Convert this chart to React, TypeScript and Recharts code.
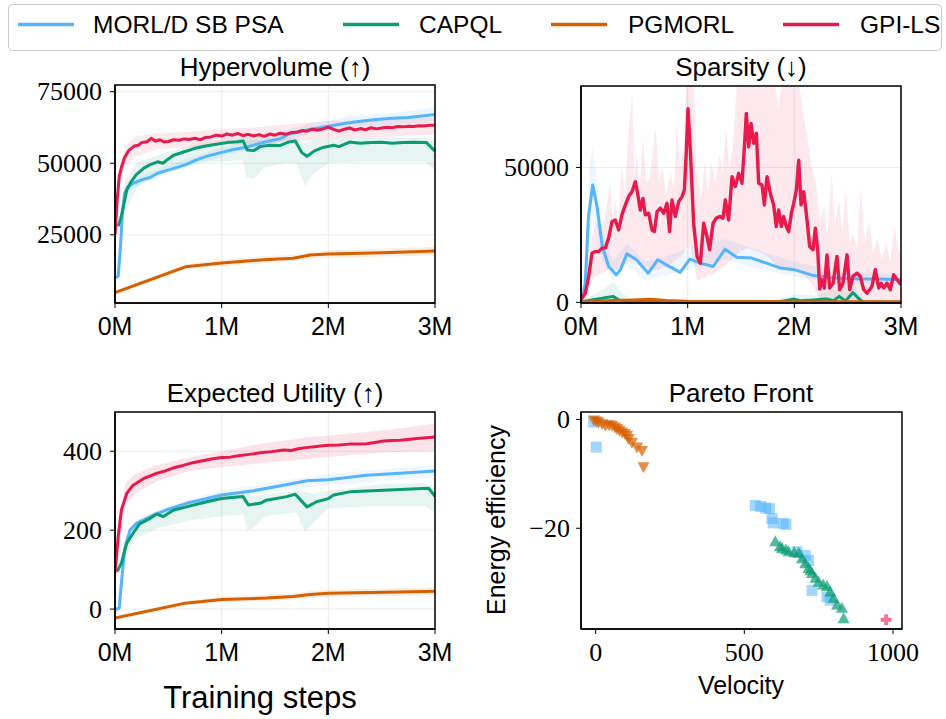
import React from 'react';
import { ComposedChart, ScatterChart, Line, Area, Scatter, XAxis, YAxis, CartesianGrid } from 'recharts';

const C_MORL = '#56b4fb';
const C_CAPQL = '#0a9c73';
const C_PGMORL = '#d65f00';
const C_GPI = '#e8194b';

const SERIES_NAMES = ['MORL/D SB PSA', 'CAPQL', 'PGMORL', 'GPI-LS'];
const STEP_TICKS = [0, 1, 2, 3];
const HV_TICKS = [25000, 50000, 75000];
const SP_TICKS = [0, 50000];
const EU_TICKS = [0, 200, 400];
const PF_X_TICKS = [0, 500, 1000];
const PF_Y_TICKS = [-20, 0];

// ---------- Hypervolume ----------
const hvMorl = [[0,9900],[0.03,10500],[0.05,20000],[0.07,33000],[0.09,39500],[0.12,41800],[0.17,43000],[0.25,44200],[0.33,45000],[0.40,46500],[0.48,47400],[0.56,48300],[0.67,49600],[0.75,51000],[0.85,52300],[1.00,53800],[1.10,54700],[1.23,55600],[1.35,56800],[1.45,57800],[1.55,58600],[1.62,60000],[1.73,61000],[1.85,62000],[2.00,62900],[2.15,63900],[2.30,64700],[2.45,65300],[2.60,65700],[2.75,66000],[2.90,66600],[3.00,67000]];
const hvMorlBand = [[0,9000,10800],[0.05,15000,25000],[0.08,33000,40000],[0.12,40500,43500],[0.3,43500,46500],[0.6,47500,50500],[1.0,52500,55500],[1.4,56000,59500],[1.8,60000,63500],[2.2,62500,66500],[2.6,63500,67500],[3.0,64500,69500]];
const hvCapql = [[0.03,28000],[0.06,31500],[0.09,37000],[0.11,40500],[0.15,43500],[0.20,46000],[0.27,48300],[0.33,49500],[0.40,50500],[0.45,50000],[0.50,51500],[0.55,52800],[0.65,54000],[0.75,55200],[0.85,56000],[0.95,56600],[1.05,57200],[1.15,57500],[1.20,57800],[1.24,54600],[1.30,54400],[1.36,55800],[1.45,56300],[1.55,56200],[1.62,57300],[1.69,57800],[1.75,53800],[1.80,52400],[1.87,54300],[1.95,55500],[2.05,56300],[2.10,55800],[2.20,57400],[2.30,57000],[2.40,57200],[2.50,57300],[2.60,57000],[2.70,57200],[2.80,57300],[2.92,57200],[3.00,54200]];
const hvCapqlBand = [[0.03,27000,29000],[0.1,33000,44000],[0.2,41000,50000],[0.3,44500,51500],[0.5,47500,54000],[0.8,50500,57000],[1.0,50500,58000],[1.2,51000,58800],[1.23,45000,58800],[1.3,44500,58000],[1.4,48500,58500],[1.6,50000,59000],[1.7,50000,58800],[1.78,42000,57000],[1.85,46000,58000],[2.0,50000,58500],[2.3,50500,59000],[2.6,50500,59000],[2.9,50500,59000],[3.0,47500,58000]];
const hvPgmorl = [[0,4800],[0.66,13800],[1.0,15100],[1.4,16300],[1.67,16800],[1.83,17900],[2.0,18300],[2.5,18700],[3.0,19300]];
const hvPgmorlBand = [[0,4200,5400],[0.66,12800,14800],[1.0,14000,16200],[1.4,15100,17500],[1.67,15600,18000],[1.83,16700,19100],[2.0,17000,19600],[2.5,17300,20100],[3.0,17800,20800]];
const hvGpi = [[0,25000],[0.02,37000],[0.04,45500],[0.06,48500],[0.09,52000],[0.13,54500],[0.18,56000],[0.22,56300],[0.25,57200],[0.30,57500],[0.34,58700],[0.38,57700],[0.42,58200],[0.46,57400],[0.50,57600],[0.55,58200],[0.60,58000],[0.65,58500],[0.70,58300],[0.75,58700],[0.80,58200],[0.85,59000],[0.90,59200],[0.95,59800],[1.00,59500],[1.05,60200],[1.10,59800],[1.15,60400],[1.20,59600],[1.25,60100],[1.30,59500],[1.35,60000],[1.40,59400],[1.45,60200],[1.50,59800],[1.55,60500],[1.60,60100],[1.65,60700],[1.70,60800],[1.75,61400],[1.80,61200],[1.85,61900],[1.90,61500],[1.95,62000],[2.00,62600],[2.05,61800],[2.10,61200],[2.15,61900],[2.20,62300],[2.25,61600],[2.30,62100],[2.35,61700],[2.40,62400],[2.45,62000],[2.50,62300],[2.55,62600],[2.60,62400],[2.65,62800],[2.70,62700],[2.75,62900],[2.80,62800],[2.85,63100],[2.90,63000],[2.95,63300],[3.00,63300]];
const hvGpiBand = [[0,24000,26000],[0.05,43000,50000],[0.1,49000,56000],[0.2,52500,59500],[0.4,55000,60500],[0.7,55500,61000],[1.0,56500,62000],[1.3,56500,62500],[1.6,57500,63500],[2.0,58500,64800],[2.4,59000,65000],[2.7,59500,65500],[3.0,60000,66000]];

// ---------- Sparsity ----------
const spMorl = [[0,0],[0.04,7100],[0.07,31800],[0.11,43500],[0.15,35500],[0.20,20700],[0.26,13300],[0.33,10200],[0.37,12100],[0.43,18000],[0.52,15800],[0.63,10800],[0.72,15800],[0.80,13900],[0.93,11100],[1.02,16000],[1.12,14500],[1.24,13300],[1.35,19700],[1.46,16700],[1.60,16400],[1.74,14500],[1.87,12700],[2.00,12100],[2.18,9900],[2.37,9000],[2.62,8600],[2.80,8600],[3.00,8400]];
const spMorlBand = [[0,0,500],[0.04,2000,15000],[0.08,20000,50000],[0.11,32000,57500],[0.15,27000,45000],[0.2,15000,27000],[0.3,8000,15000],[0.43,14000,22000],[0.6,8000,15000],[0.8,10000,17000],[1.0,12000,20000],[1.35,16000,23500],[1.6,13000,20000],[2.0,9500,15000],[2.4,7000,11500],[3.0,6500,10500]];
const spCapql = [[0,0],[0.05,500],[0.10,900],[0.20,1500],[0.30,2200],[0.36,800],[0.45,200],[0.6,100],[1.0,50],[1.5,50],[1.85,100],[2.0,1200],[2.05,600],[2.15,800],[2.3,1200],[2.37,600],[2.42,2200],[2.48,500],[2.55,3600],[2.6,1500],[2.65,0],[3.0,0]];
const spCapqlBand = [[0,0,200],[0.1,0,2500],[0.2,0,4500],[0.3,0,7500],[0.4,0,3000],[0.5,0,500],[1.8,0,500],[2.0,0,3000],[2.2,0,2500],[2.4,0,5000],[2.55,0,7000],[2.65,0,1000],[3.0,0,300]];
const spPgmorl = [[0,0],[0.1,300],[0.3,700],[0.5,900],[0.65,1100],[0.8,700],[1.0,400],[1.5,300],[2.0,250],[3.0,200]];
const spGpi = [[0,1000],[0.041,3450],[0.072,9600],[0.103,18200],[0.134,18800],[0.166,18800],[0.197,20100],[0.228,20100],[0.259,23800],[0.291,29900],[0.322,30500],[0.353,26800],[0.384,32400],[0.416,36100],[0.447,39200],[0.478,41000],[0.509,44700],[0.531,40400],[0.556,34200],[0.581,38500],[0.603,32400],[0.634,33000],[0.666,26800],[0.688,26200],[0.713,33600],[0.744,34900],[0.775,33000],[0.806,36700],[0.831,26200],[0.853,37900],[0.884,31800],[0.916,37300],[0.947,39200],[0.969,41600],[0.988,56400],[1.003,71800],[1.025,56400],[1.056,29300],[1.088,17000],[1.119,14500],[1.150,29300],[1.181,24400],[1.206,19500],[1.238,29300],[1.269,31200],[1.300,31800],[1.331,31200],[1.353,37900],[1.384,30500],[1.416,46600],[1.447,42900],[1.478,47800],[1.509,44100],[1.531,57000],[1.550,70000],[1.572,57600],[1.594,66300],[1.619,58900],[1.644,62600],[1.666,44100],[1.697,43500],[1.719,36100],[1.744,46600],[1.775,40400],[1.806,36100],[1.831,28100],[1.853,34200],[1.878,28100],[1.900,31800],[1.925,28100],[1.947,26200],[1.972,33000],[1.994,36700],[2.019,41600],[2.041,52700],[2.063,36100],[2.088,41000],[2.119,30500],[2.144,20700],[2.175,19500],[2.197,27500],[2.219,19500],[2.238,4900],[2.259,8400],[2.281,5300],[2.306,17600],[2.331,5300],[2.363,7100],[2.400,17000],[2.425,4700],[2.456,7100],[2.494,17600],[2.519,4700],[2.550,9600],[2.588,10800],[2.619,9600],[2.650,4700],[2.681,3400],[2.728,5900],[2.759,12100],[2.791,5300],[2.813,7100],[2.838,5300],[2.869,7100],[2.900,4700],[2.931,10200],[2.963,8400],[3.000,6500]];
const spGpiBand = [[0,0,1500],[0.05,1000,8000],[0.10,8000,24000],[0.15,10000,30000],[0.20,11000,28000],[0.24,12000,35000],[0.27,12000,44000],[0.30,12000,30000],[0.32,12000,38000],[0.35,12000,30000],[0.38,14000,52000],[0.41,14000,40000],[0.44,15000,60000],[0.48,15000,77000],[0.50,15000,45000],[0.52,15000,55000],[0.55,14000,42000],[0.58,14000,62000],[0.61,13000,45000],[0.64,12000,45000],[0.67,12000,55000],[0.70,12000,65000],[0.73,12000,45000],[0.76,13000,50000],[0.80,13000,40000],[0.84,14000,48000],[0.87,15000,42000],[0.90,16000,66000],[0.93,17000,50000],[0.96,18000,58000],[0.985,20000,80000],[1.03,20000,80000],[1.06,14000,80000],[1.08,9000,50000],[1.10,8000,45000],[1.13,9000,38000],[1.16,9000,52000],[1.19,10000,40000],[1.22,10000,52000],[1.26,11000,44000],[1.30,12000,55000],[1.33,13000,48000],[1.36,14000,65000],[1.39,15000,50000],[1.42,16000,56000],[1.46,18000,80000],[1.55,20000,80000],[1.65,19000,80000],[1.75,17000,80000],[1.82,14000,80000],[1.85,13000,72000],[1.88,12000,80000],[1.95,12000,80000],[2.05,11000,80000],[2.08,10000,70000],[2.12,9000,62000],[2.16,7000,50000],[2.20,4000,45000],[2.24,1000,30000],[2.28,0,36000],[2.31,0,25000],[2.35,0,48000],[2.38,0,28000],[2.42,0,38000],[2.45,0,25000],[2.48,0,42000],[2.52,0,22000],[2.55,0,25000],[2.59,0,20000],[2.62,0,42000],[2.66,0,22000],[2.70,0,30000],[2.74,0,18000],[2.78,0,24000],[2.82,0,16000],[2.86,0,22000],[2.90,0,15000],[2.94,0,28000],[2.97,0,20000],[3.00,2000,17000]];

// ---------- Expected Utility ----------
const euMorl = [[0,-2],[0.04,3],[0.06,66],[0.09,150],[0.14,200],[0.20,217],[0.33,234],[0.48,251],[0.67,268],[0.86,280],[1.00,289],[1.30,300],[1.58,314],[1.80,325],[2.00,328],[2.36,339],[2.67,344],[3.00,350]];
const euMorlBand = [[0,-6,2],[0.06,50,85],[0.1,150,185],[0.2,205,228],[0.5,240,262],[1.0,277,301],[1.5,298,322],[2.0,314,342],[2.5,324,354],[3.0,334,366]];
const euCapql = [[0.02,95],[0.06,116],[0.11,167],[0.17,192],[0.23,216],[0.33,230],[0.39,241],[0.45,234],[0.55,251],[0.67,259],[0.86,272],[1.00,280],[1.20,285],[1.25,264],[1.36,268],[1.42,276],[1.61,285],[1.69,291],[1.80,259],[1.89,272],[2.00,280],[2.05,289],[2.20,297],[2.52,301],[2.83,305],[2.94,306],[3.00,286]];
const euCapqlBand = [[0.02,90,100],[0.1,140,185],[0.2,180,222],[0.4,205,250],[0.7,225,272],[1.0,235,290],[1.2,240,296],[1.24,200,292],[1.3,205,285],[1.4,235,290],[1.7,245,300],[1.78,195,296],[1.85,215,292],[2.0,255,300],[2.5,262,316],[2.9,262,320],[3.0,245,310]];
const euPgmorl = [[0,-23],[0.66,15],[1.0,24],[1.42,28],[1.67,32],[1.83,37],[2.0,40],[2.67,43],[3.0,45]];
const euPgmorlBand = [[0,-27,-19],[0.66,9,21],[1.0,17,31],[1.42,20,36],[1.67,24,40],[1.83,28,46],[2.0,31,49],[2.67,33,53],[3.0,35,55]];
const euGpi = [[0,91],[0.03,184],[0.06,251],[0.11,293],[0.17,314],[0.27,331],[0.39,344],[0.47,350],[0.55,358],[0.64,364],[0.73,371],[0.82,376],[0.92,381],[1.00,384],[1.08,385],[1.17,389],[1.26,392],[1.36,396],[1.47,399],[1.58,403],[1.65,402],[1.73,407],[1.85,411],[1.93,413],[2.00,415],[2.10,416],[2.20,418],[2.30,418],[2.36,419],[2.45,423],[2.52,426],[2.60,427],[2.67,428],[2.75,430],[2.83,432],[2.92,434],[3.00,436]];
const euGpiBand = [[0,87,95],[0.05,170,230],[0.1,265,320],[0.2,295,345],[0.4,325,365],[0.7,350,385],[1.0,360,400],[1.4,370,420],[1.8,380,435],[2.2,390,445],[2.6,398,455],[3.0,400,470]];

// ---------- Pareto front ----------
const pfMorl = [[-7,-0.5],[2,-5.1],[537,-15.8],[555,-16.0],[572,-16.3],[585,-16.4],[593,-18.2],[597,-19.0],[631,-19.1],[640,-19.3],[677,-24.3],[705,-25.0],[716,-25.9],[728,-31.4],[778,-32.6],[789,-33.2]];
const pfCapql = [[604,-22.5],[620,-23.4],[627,-23.7],[640,-24.0],[649,-24.3],[668,-24.5],[683,-24.6],[694,-25.6],[705,-26.5],[716,-27.4],[722,-27.8],[728,-28.3],[739,-29.2],[750,-29.9],[765,-30.4],[778,-30.7],[789,-31.7],[800,-32.9],[812,-34.1],[828,-34.7],[834,-36.6]];
const pfPgmorl = [[-6,-0.1],[3,-0.3],[10,-0.5],[22,-0.8],[33,-1.1],[45,-1.0],[55,-1.1],[65,-1.4],[72,-1.7],[80,-2.0],[89,-2.3],[98,-2.6],[106,-2.9],[111,-3.5],[122,-4.2],[139,-5.1],[156,-5.7],[161,-8.7]];
const pfGpi = [[977,-36.8]];

const pts = (a: number[][]) => a.map(([x, y]) => ({ x, y }));
const band = (a: number[][]) => a.map(([x, lo, hi]) => ({ x, band: [lo, hi] }));

const SERIF = "'Liberation Serif', 'DejaVu Serif', serif";
const SANS = "'Liberation Sans', 'DejaVu Sans', sans-serif";

const stepFmt = (v: number) => `${v}M`;
const numFmt = (v: number) => (v < 0 ? `\u2212${Math.abs(v)}` : String(v));

const xTick = (font: string, size: number, fmt: (v: number) => string) => (props: any) => (
  <text x={props.x} y={props.y} dy={size * 0.71} textAnchor="middle" style={{ fontFamily: font, fontSize: size }} fill="#000">
    {fmt(props.payload.value)}
  </text>
);
const yTick = (size: number) => (props: any) => (
  <text x={props.x} y={props.y} dy={size * 0.33} textAnchor="end" style={{ fontFamily: SERIF, fontSize: size }} fill="#000">
    {numFmt(props.payload.value)}
  </text>
);

type Box = [number, number, number, number];
const PAD_L = 120, PAD_T = 10, PAD_R = 20, PAD_B = 60;
const AXIS_LINE = { stroke: '#000', strokeWidth: 1.5 };
const TICK_LINE = { stroke: '#000', strokeWidth: 1 };

const HV_BOX: Box = [115, 85, 435, 303];
const SP_BOX: Box = [581, 86, 901, 303];
const EU_BOX: Box = [115, 412, 435, 629];
const PF_BOX: Box = [581, 412, 902, 629];

function TrainPanel({ box, yDomain, yTicks, yTickMargin, children }: any) {
  const [x0, y0, x1, y1] = box as Box;
  return (
    <div style={{ position: 'absolute', left: x0 - PAD_L, top: y0 - PAD_T }}>
      <ComposedChart width={x1 - x0 + PAD_L + PAD_R} height={y1 - y0 + PAD_T + PAD_B}
        margin={{ top: PAD_T, right: PAD_R, bottom: 0, left: 0 }}>
        <CartesianGrid stroke="#ebebeb" strokeWidth={1} />
        <XAxis type="number" dataKey="x" domain={[0, 3]} ticks={STEP_TICKS} interval={0} allowDataOverflow
          height={PAD_B} tickSize={5} tickMargin={9} axisLine={AXIS_LINE} tickLine={TICK_LINE}
          tick={xTick(SANS, 25, stepFmt)} />
        <YAxis type="number" domain={yDomain} ticks={yTicks} interval={0} allowDataOverflow
          width={PAD_L} tickSize={5} tickMargin={yTickMargin} axisLine={AXIS_LINE} tickLine={TICK_LINE}
          tick={yTick(26)} />
        {children}
      </ComposedChart>
    </div>
  );
}

const bandArea = (data: any[], color: string, key: string, op = 0.1) => (
  <Area key={key} data={data} dataKey="band" type="linear" stroke="none" fill={color} fillOpacity={op}
    isAnimationActive={false} activeDot={false} dot={false} />
);
const meanLine = (data: any[], color: string, key: string, w = 3) => (
  <Line key={key} data={data} dataKey="y" type="linear" stroke={color} strokeWidth={w} dot={false}
    activeDot={false} isAnimationActive={false} strokeLinejoin="round" />
);

const squareShape = (props: any) => (
  <rect x={props.cx - 5.5} y={props.cy - 5.5} width={11} height={11} fill={C_MORL} fillOpacity={0.55} />
);
const upTriShape = (props: any) => (
  <polygon points={`${props.cx},${props.cy - 6.5} ${props.cx - 6},${props.cy + 4.5} ${props.cx + 6},${props.cy + 4.5}`}
    fill={C_CAPQL} fillOpacity={0.7} />
);
const downTriShape = (props: any) => (
  <polygon points={`${props.cx},${props.cy + 6.5} ${props.cx - 6},${props.cy - 4.5} ${props.cx + 6},${props.cy - 4.5}`}
    fill={C_PGMORL} fillOpacity={0.7} />
);
const plusShape = (props: any) => (
  <path d={`M${props.cx - 2},${props.cy - 5.5}h4v3.5h3.5v4h-3.5v3.5h-4v-3.5h-3.5v-4h3.5z`}
    fill={C_GPI} fillOpacity={0.6} />
);

function ParetoPanel({ box }: any) {
  const [x0, y0, x1, y1] = box as Box;
  return (
    <div style={{ position: 'absolute', left: x0 - PAD_L, top: y0 - PAD_T }}>
      <ScatterChart width={x1 - x0 + PAD_L + PAD_R} height={y1 - y0 + PAD_T + PAD_B}
        margin={{ top: PAD_T, right: PAD_R, bottom: 0, left: 0 }}>
        <XAxis type="number" dataKey="x" domain={[-49.3, 1030.3]} ticks={PF_X_TICKS} interval={0} allowDataOverflow
          height={PAD_B} tickSize={5} tickMargin={9} axisLine={AXIS_LINE} tickLine={TICK_LINE}
          tick={xTick(SERIF, 26, numFmt)} />
        <YAxis type="number" dataKey="y" domain={[-38.5, 1.35]} ticks={PF_Y_TICKS} interval={0} allowDataOverflow
          width={PAD_L} tickSize={5} tickMargin={6} axisLine={AXIS_LINE} tickLine={TICK_LINE}
          tick={yTick(26)} />
        <Scatter name={SERIES_NAMES[0]} data={pts(pfMorl)} shape={squareShape} isAnimationActive={false} />
        <Scatter name={SERIES_NAMES[2]} data={pts(pfPgmorl)} shape={downTriShape} isAnimationActive={false} />
        <Scatter name={SERIES_NAMES[1]} data={pts(pfCapql)} shape={upTriShape} isAnimationActive={false} />
        <Scatter name={SERIES_NAMES[3]} data={pts(pfGpi)} shape={plusShape} isAnimationActive={false} />
      </ScatterChart>
    </div>
  );
}

const LEGEND_ITEMS = [
  { name: SERIES_NAMES[0], color: C_MORL, lx: 18, tx: 93 },
  { name: SERIES_NAMES[1], color: C_CAPQL, lx: 343, tx: 419 },
  { name: SERIES_NAMES[2], color: C_PGMORL, lx: 551, tx: 628 },
  { name: SERIES_NAMES[3], color: C_GPI, lx: 783, tx: 860 },
];

export default function App() {
  return (
    <div style={{ position: 'absolute', left: 0, top: 0, width: 946, height: 719, background: '#fff', overflow: 'hidden' }}>
      <TrainPanel box={HV_BOX} yDomain={[1160, 77330]} yTicks={HV_TICKS} yTickMargin={8}>
        {bandArea(band(hvMorlBand), C_MORL, 'b1', 0.12)}
        {bandArea(band(hvCapqlBand), C_CAPQL, 'b2')}
        {bandArea(band(hvPgmorlBand), C_PGMORL, 'b3')}
        {bandArea(band(hvGpiBand), C_GPI, 'b4')}
        {meanLine(pts(hvMorl), C_MORL, 'l1')}
        {meanLine(pts(hvCapql), C_CAPQL, 'l2')}
        {meanLine(pts(hvPgmorl), C_PGMORL, 'l3')}
        {meanLine(pts(hvGpi), C_GPI, 'l4')}
      </TrainPanel>
      <TrainPanel box={SP_BOX} yDomain={[-250, 80170]} yTicks={SP_TICKS} yTickMargin={7}>
        {bandArea(band(spMorlBand), C_MORL, 'b1')}
        {bandArea(band(spCapqlBand), C_CAPQL, 'b2')}
        {bandArea(band(spGpiBand), C_GPI, 'b4')}
        {meanLine(pts(spMorl), C_MORL, 'l1')}
        {meanLine(pts(spCapql), C_CAPQL, 'l2')}
        {meanLine(pts(spPgmorl), C_PGMORL, 'l3')}
        {meanLine(pts(spGpi), C_GPI, 'l4', 3.4)}
      </TrainPanel>
      <TrainPanel box={EU_BOX} yDomain={[-50.5, 499.4]} yTicks={EU_TICKS} yTickMargin={8}>
        {bandArea(band(euMorlBand), C_MORL, 'b1')}
        {bandArea(band(euCapqlBand), C_CAPQL, 'b2')}
        {bandArea(band(euPgmorlBand), C_PGMORL, 'b3')}
        {bandArea(band(euGpiBand), C_GPI, 'b4', 0.12)}
        {meanLine(pts(euMorl), C_MORL, 'l1')}
        {meanLine(pts(euCapql), C_CAPQL, 'l2')}
        {meanLine(pts(euPgmorl), C_PGMORL, 'l3')}
        {meanLine(pts(euGpi), C_GPI, 'l4')}
      </TrainPanel>
      <ParetoPanel box={PF_BOX} />
      <svg width={946} height={719} style={{ position: 'absolute', left: 0, top: 0, pointerEvents: 'none' }}>
        {[HV_BOX, SP_BOX, EU_BOX, PF_BOX].map((b, i) => (
          <rect key={i} x={b[0]} y={b[1]} width={b[2] - b[0]} height={b[3] - b[1]} fill="none" stroke="#000" strokeWidth={1.5} />
        ))}
        <rect x={8.5} y={4.5} width={933} height={46} rx={4} fill="#fff" fillOpacity={0.8} stroke="#cccccc" strokeWidth={1} />
        {LEGEND_ITEMS.map((it) => (
          <g key={it.name}>
            <line x1={it.lx} x2={it.lx + 56} y1={24.5} y2={24.5} stroke={it.color} strokeWidth={3.5} />
            <text x={it.tx} y={33} style={{ fontFamily: SANS, fontSize: 24.5 }} fill="#000">{it.name}</text>
          </g>
        ))}
        <g style={{ fontFamily: SANS }} fill="#000" textAnchor="middle">
          <text x={275} y={76} fontSize={26}>Hypervolume (↑)</text>
          <text x={741} y={76} fontSize={26}>Sparsity (↓)</text>
          <text x={275} y={402} fontSize={26}>Expected Utility (↑)</text>
          <text x={741} y={402} fontSize={26}>Pareto Front</text>
          <text x={260} y={708} fontSize={31}>Training steps</text>
          <text x={741} y={694} fontSize={25}>Velocity</text>
          <text x={505} y={520} fontSize={25} transform="rotate(-90 505 520)">Energy efficiency</text>
        </g>
      </svg>
    </div>
  );
}
